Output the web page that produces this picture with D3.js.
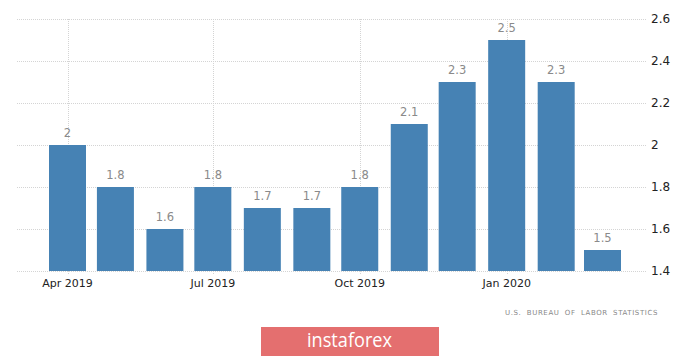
<!DOCTYPE html>
<html><head><meta charset="utf-8">
<script src="https://cdn.jsdelivr.net/npm/d3@7"></script>
<style>body{margin:0;background:#fff}svg{display:block}</style>
</head><body>
<script>
const months = ["2019-04","2019-05","2019-06","2019-07","2019-08","2019-09","2019-10","2019-11","2019-12","2020-01","2020-02","2020-03"];
const values = [2.0,1.8,1.6,1.8,1.7,1.7,1.8,2.1,2.3,2.5,2.3,1.5];
const valueLabels = ["2","1.8","1.6","1.8","1.7","1.7","1.8","2.1","2.3","2.5","2.3","1.5"];
const yTicks = [1.4,1.6,1.8,2.0,2.2,2.4,2.6];
const xTickDates = ["2019-04","2019-07","2019-10","2020-01"];
const xTickLabels = ["Apr 2019","Jul 2019","Oct 2019","Jan 2020"];
const sourceText = "U.S. BUREAU OF LABOR STATISTICS";
const logoText = "instaforex";

const W=700,H=358;
const parse = d3.utcParse("%Y-%m");
const svg = d3.select("body").append("svg").attr("width",W).attr("height",H);
const x = d3.scaleUtc().domain([parse(months[0]), parse(months[months.length-1])]).range([67.5,602.5]);
const y = d3.scaleLinear().domain([1.4,2.6]).range([271,19]);
const font = "Tahoma, 'DejaVu Sans', sans-serif";

// horizontal gridlines
svg.append("g").selectAll("line").data(yTicks).join("line")
  .attr("x1",17).attr("x2",647).attr("y1",d=>Math.round(y(d))+0.5).attr("y2",d=>Math.round(y(d))+0.5)
  .attr("stroke","#d4d4d4").attr("stroke-dasharray","1,1");
// vertical gridlines
svg.append("g").selectAll("line").data(xTickDates).join("line")
  .attr("x1",d=>Math.round(x(parse(d)))+0.5).attr("x2",d=>Math.round(x(parse(d)))+0.5)
  .attr("y1",19).attr("y2",275)
  .attr("stroke","#d4d4d4").attr("stroke-dasharray","1,1");

// bars
const bw=37;
svg.append("g").selectAll("rect").data(values).join("rect")
  .attr("x",(d,i)=>x(parse(months[i]))-bw/2).attr("width",bw)
  .attr("y",d=>y(d)).attr("height",d=>y(1.4)-y(d))
  .attr("fill","#4682b4");
// value labels
svg.append("g").selectAll("text").data(values).join("text")
  .attr("x",(d,i)=>x(parse(months[i]))).attr("y",d=>y(d)-8)
  .attr("text-anchor","middle").attr("font-family",font).attr("font-size",11.5)
  .attr("fill","#8a8a8a").text((d,i)=>valueLabels[i]);

// y axis labels
svg.append("g").selectAll("text").data(yTicks).join("text")
  .attr("x",651).attr("y",d=>y(d)+4)
  .attr("font-family",font).attr("font-size",12).attr("fill","#222")
  .text(d=>d3.format("~g")(d));
// x axis labels
svg.append("g").selectAll("text").data(xTickDates).join("text")
  .attr("x",d=>x(parse(d))).attr("y",287)
  .attr("text-anchor","middle").attr("font-family",font).attr("font-size",11).attr("fill","#222")
  .text((d,i)=>xTickLabels[i]);

// source
svg.append("text").attr("x",658).attr("y",315).attr("text-anchor","end")
  .attr("font-family",font).attr("font-size",7).attr("letter-spacing",0.6).attr("word-spacing",2.5)
  .attr("fill","#888").text(sourceText);

// logo
svg.append("rect").attr("x",261).attr("y",327).attr("width",178).attr("height",29).attr("fill","#e46f6f");
svg.append("text").attr("x",307).attr("y",347)
  .attr("font-family","'Open Sans', sans-serif").attr("font-size",20).attr("fill","#fff")
  .attr("textLength",85).attr("lengthAdjust","spacingAndGlyphs").text(logoText);
</script>
</body></html>
